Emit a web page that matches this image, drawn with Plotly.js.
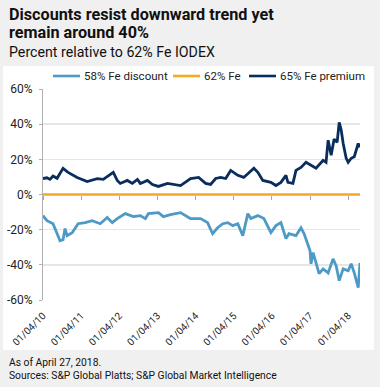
<!DOCTYPE html>
<html>
<head>
<meta charset="utf-8">
<script src="https://cdn.plot.ly/plotly-3.0.1.min.js"></script>
<style>
html,body{margin:0;padding:0;background:#f0f0f0;}
#chart{width:380px;height:387px;}
</style>
</head>
<body>
<div id="chart"></div>
<script>
// ---- data (percent relative to 62% Fe IODEX) ----
var premiumDates = ['2010-01-04','2010-02-11','2010-03-12','2010-04-10','2010-05-19','2010-07-15','2010-09-01','2010-11-27','2011-03-03','2011-06-07','2011-08-04','2011-11-08','2011-12-16','2012-01-14','2012-03-21','2012-05-08','2012-06-26','2012-07-24','2012-09-30','2012-11-17','2013-01-13','2013-04-10','2013-08-13','2013-10-29','2013-11-17','2014-02-02','2014-04-10','2014-05-28','2014-07-15','2014-09-01','2014-10-19','2014-12-06','2015-02-12','2015-04-10','2015-07-16','2015-08-23','2015-10-10','2015-12-26','2016-02-12','2016-03-31','2016-05-18','2016-06-06','2016-07-24','2016-08-22','2016-10-09','2016-11-26','2017-01-13','2017-03-02','2017-05-09','2017-06-06','2017-06-26','2017-07-25','2017-08-22','2017-09-20','2017-10-10','2017-10-29','2017-11-17','2017-12-16','2018-01-04','2018-02-02','2018-03-03','2018-04-10','2018-04-27'];
var premiumValues = [9.1,9.5,8.6,10.5,9.2,14.9,12.6,9.7,7.4,9.0,8.6,12.6,8.0,6.3,8.0,6.3,8.6,6.3,8.0,5.7,4.6,6.3,5.1,8.0,9.1,9.7,6.3,5.7,9.1,9.7,9.1,13.7,10.9,9.7,14.9,12.6,8.0,6.9,5.1,6.9,10.9,6.9,6.3,13.7,15.4,18.3,16.6,14.9,19.4,18.3,30.9,22.3,31.5,29.7,41.0,36.6,29.0,20.6,18.3,20.6,21.5,29.0,26.9];

var discountDates = ['2010-01-04','2010-02-11','2010-04-10','2010-05-19','2010-06-16','2010-07-15','2010-08-03','2010-08-23','2010-10-10','2010-12-06','2011-02-12','2011-04-20','2011-07-06','2011-09-11','2011-10-29','2011-12-16','2012-03-02','2012-05-18','2012-07-24','2012-09-10','2012-10-09','2013-01-13','2013-03-02','2013-05-09','2013-08-13','2013-10-29','2013-11-17','2014-02-21','2014-04-29','2014-06-16','2014-08-03','2014-09-21','2014-11-08','2014-12-26','2015-02-12','2015-04-01','2015-05-19','2015-06-17','2015-08-23','2015-10-20','2015-12-06','2015-12-26','2016-02-12','2016-03-31','2016-05-18','2016-06-16','2016-08-22','2016-10-09','2016-11-08','2017-01-04','2017-01-13','2017-02-02','2017-03-02','2017-03-31','2017-05-09','2017-06-26','2017-08-12','2017-09-11','2017-10-10','2017-11-17','2018-01-04','2018-02-02','2018-03-03','2018-04-10','2018-04-27'];
var discountValues = [-12.0,-14.9,-16.6,-22.3,-26.3,-25.7,-19.4,-23.4,-21.7,-16.6,-16.0,-14.9,-16.6,-13.1,-16.0,-13.7,-10.9,-12.6,-12.0,-13.7,-10.9,-10.3,-12.6,-11.4,-10.3,-13.1,-13.7,-13.7,-16.0,-22.3,-18.9,-16.6,-16.0,-17.7,-16.6,-23.4,-10.9,-13.7,-12.0,-13.7,-18.9,-21.7,-17.7,-16.0,-25.1,-22.3,-23.4,-18.9,-22.3,-32.0,-39.4,-33.0,-38.9,-45.0,-42.3,-44.6,-36.6,-40.6,-49.0,-42.3,-43.4,-39.4,-44.6,-53.0,-38.9];

var baseDates = ['2010-01-04','2018-04-27'];
var baseValues = [0,0];

var seriesNames = ['58% Fe discount','62% Fe','65% Fe premium'];
var seriesColors = ['#4d9ac6','#f7a823','#0a2d5e'];

var yearTicks = ['2010-01-04','2011-01-04','2012-01-04','2013-01-04','2014-01-04','2015-01-04','2016-01-04','2017-01-04','2018-01-04'];
var yearTickLabels = ['01/04/10','01/04/11','01/04/12','01/04/13','01/04/14','01/04/15','01/04/16','01/04/17','01/04/18'];
var yTicks = [-60,-40,-20,0,20,40,60];
var yTickLabels = ['-60%','-40%','-20%','0%','20%','40%','60%'];

var FONT = 'Roboto, "Liberation Sans", Arial, sans-serif';

var traces = [
  {x: discountDates, y: discountValues, name: seriesNames[0], type: 'scatter', mode: 'lines',
   line: {color: seriesColors[0], width: 2.8}},
  {x: baseDates, y: baseValues, name: seriesNames[1], type: 'scatter', mode: 'lines', xaxis: 'x2',
   line: {color: seriesColors[1], width: 2.6}},
  {x: premiumDates, y: premiumValues, name: seriesNames[2], type: 'scatter', mode: 'lines',
   line: {color: seriesColors[2], width: 2.8}}
];

// pixel -> paper helpers (plot area: x 43..360, y 89..300)
function px(x){return (x-43)/317;}
function py(y){return (300-y)/211;}

var shapes = [
  {type: 'rect', xref: 'paper', yref: 'paper', x0: px(3), x1: px(374), y0: py(350), y1: py(66),
   fillcolor: '#ffffff', line: {width: 0}, layer: 'below'}
];
var annotations = [
  {xref: 'paper', yref: 'paper', x: px(7), y: py(14), xanchor: 'left', yanchor: 'middle', showarrow: false,
   text: '<b>Discounts resist downward trend yet</b>', font: {size: 16.2, color: '#111'}},
  {xref: 'paper', yref: 'paper', x: px(7), y: py(32), xanchor: 'left', yanchor: 'middle', showarrow: false,
   text: '<b>remain around 40%</b>', font: {size: 16.2, color: '#111'}},
  {xref: 'paper', yref: 'paper', x: px(7), y: py(52), xanchor: 'left', yanchor: 'middle', showarrow: false,
   text: 'Percent relative to 62% Fe IODEX', font: {size: 14.2, color: '#111'}},
  {xref: 'paper', yref: 'paper', x: px(7), y: py(363), xanchor: 'left', yanchor: 'middle', showarrow: false,
   text: 'As of April 27, 2018.', font: {size: 10.3, color: '#111'}},
  {xref: 'paper', yref: 'paper', x: px(7), y: py(375), xanchor: 'left', yanchor: 'middle', showarrow: false,
   text: 'Sources: S&amp;P Global Platts; S&amp;P Global Market Intelligence', font: {size: 10.3, color: '#111'}}
];
// manual legend
var legendLineStart = [53, 173, 249];
var legendY = 76;
for (var i = 0; i < 3; i++) {
  shapes.push({type: 'line', xref: 'paper', yref: 'paper', x0: px(legendLineStart[i]), x1: px(legendLineStart[i] + 27),
    y0: py(legendY), y1: py(legendY), line: {color: seriesColors[i], width: 2.6}});
  annotations.push({xref: 'paper', yref: 'paper', x: px(legendLineStart[i] + 29), y: py(legendY), xanchor: 'left',
    yanchor: 'middle', showarrow: false, text: seriesNames[i], font: {size: 11.5, color: '#222'}});
}

var layout = {
  width: 380, height: 387,
  margin: {l: 43, r: 20, t: 89, b: 87},
  paper_bgcolor: '#f0f0f0',
  plot_bgcolor: '#ffffff',
  font: {family: FONT, color: '#222222'},
  showlegend: false,
  xaxis: {type: 'date', range: ['2010-01-04','2018-04-27'], tickvals: yearTicks, ticktext: yearTickLabels,
          tickangle: -45, tickfont: {size: 10, color: '#222'}, showgrid: false, zeroline: false,
          showline: false, ticks: '', ticklabelstandoff: 7, automargin: false},
  xaxis2: {type: 'date', overlaying: 'x', matches: 'x', anchor: 'free', position: 0.5,
           tickvals: yearTicks, showticklabels: false, ticks: 'outside', ticklen: 4, tickwidth: 1,
           tickcolor: '#aaaaaa', showgrid: false, zeroline: false, showline: false, automargin: false},
  yaxis: {range: [-60, 60], tickvals: yTicks, ticktext: yTickLabels, tickfont: {size: 12, color: '#222'},
          showgrid: true, gridcolor: '#e6e6e6', gridwidth: 1.5, zeroline: false,
          showline: true, linecolor: '#b0b0b0', linewidth: 1, ticks: 'outside', ticklen: 3,
          tickcolor: '#b0b0b0', ticklabelstandoff: 4, automargin: false},
  shapes: shapes,
  annotations: annotations
};

Plotly.newPlot('chart', traces, layout, {displayModeBar: false, staticPlot: true});
</script>
</body>
</html>
